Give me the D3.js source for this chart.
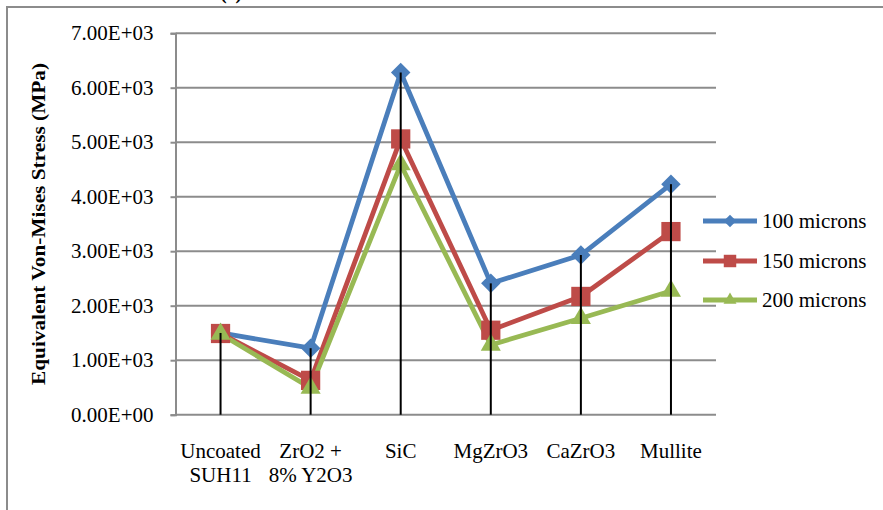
<!DOCTYPE html>
<html><head><meta charset="utf-8">
<script src="https://cdn.jsdelivr.net/npm/d3@7"></script>
<style>
html,body{margin:0;padding:0;background:#fff;}
svg{display:block;font-family:"Liberation Serif","Times New Roman",serif;}
</style></head>
<body>
<svg id="chart" width="883" height="510"></svg>
<script>
const categories = [["Uncoated","SUH11"],["ZrO2 +","8% Y2O3"],["SiC"],["MgZrO3"],["CaZrO3"],["Mullite"]];
const seriesNames = ["100 microns","150 microns","200 microns"];
const s100 = [1500, 1220, 6280, 2410, 2930, 4230];
const s150 = [1490, 630, 5060, 1550, 2170, 3360];
const s200 = [1480, 490, 4590, 1280, 1770, 2270];
const yTicks = [0,1000,2000,3000,4000,5000,6000,7000];
const yTickLabels = ["0.00E+00","1.00E+03","2.00E+03","3.00E+03","4.00E+03","5.00E+03","6.00E+03","7.00E+03"];
const colors = ["#4A7EBB","#BE4B48","#98B954"];

const diamond = {draw(ctx,size){const r=Math.sqrt(size)/2;ctx.moveTo(0,-r);ctx.lineTo(r,0);ctx.lineTo(0,r);ctx.lineTo(-r,0);ctx.closePath();}};
const symbols = [diamond, d3.symbolSquare, d3.symbolTriangle];
const symSizes = [380, 370, 175];
const FS = 21;

const svg = d3.select("#chart");
const plot = {left:175.5, right:716, top:33.2, bottom:414.7};

// outer chart border
svg.append("rect").attr("x",7).attr("y",7).attr("width",900).attr("height",520)
  .attr("fill","none").attr("stroke","#8c8c8c").attr("stroke-width",2);
svg.append("text").attr("x",231).attr("y",-1).attr("text-anchor","middle")
  .attr("font-size",20).attr("font-weight","bold").text("(c)");

const x = d3.scaleBand().domain(d3.range(categories.length)).range([plot.left, plot.right]).padding(0);
const y = d3.scaleLinear().domain([0,7000]).range([plot.bottom, plot.top]);
const cx = i => x(i) + x.bandwidth()/2;

// gridlines
svg.append("g").selectAll("line").data(yTicks).join("line")
  .attr("x1",plot.left).attr("x2",plot.right)
  .attr("y1",d=>y(d)).attr("y2",d=>y(d))
  .attr("stroke","#8c8c8c").attr("stroke-width",2);

// y axis
const yAxis = d3.axisLeft(y).tickValues(yTicks).tickFormat((d,i)=>yTickLabels[i]).tickSize(5).tickPadding(17);
const gy = svg.append("g").attr("transform",`translate(${plot.left},0)`).call(yAxis);
gy.select(".domain").attr("stroke","#8c8c8c").attr("stroke-width",2);
gy.selectAll(".tick line").attr("stroke","#8c8c8c").attr("stroke-width",2);
gy.selectAll(".tick text").attr("font-size",FS).attr("font-family","Liberation Serif").attr("fill","#000");

// y title
svg.append("text").attr("transform","translate(45,224) rotate(-90)")
  .attr("text-anchor","middle").attr("font-size",19).attr("font-weight","bold")
  .attr("textLength",322).attr("lengthAdjust","spacingAndGlyphs")
  .text("Equivalent Von-Mises Stress (MPa)");

// x labels
const xl = svg.append("g");
categories.forEach((lines,i)=>{
  const t = xl.append("text").attr("x",cx(i)).attr("y",458).attr("text-anchor","middle").attr("font-size",FS);
  lines.forEach((ln,j)=>t.append("tspan").attr("x",cx(i)).attr("dy",j===0?0:24).text(ln));
});

const data = [s100,s150,s200];
const maxVals = categories.map((c,i)=>d3.max(data,s=>s[i]));

const line = d3.line().x((d,i)=>cx(i)).y(d=>y(d));
data.forEach((s,k)=>{
  svg.append("path").datum(s).attr("d",line).attr("fill","none")
    .attr("stroke",colors[k]).attr("stroke-width",4.8).attr("stroke-linejoin","round");
});
data.forEach((s,k)=>{
  svg.append("g").selectAll("path").data(s).join("path")
    .attr("d",d3.symbol().type(symbols[k]).size(symSizes[k]))
    .attr("transform",(d,i)=>`translate(${cx(i)},${y(d)})`)
    .attr("fill",colors[k]);
});
// drop lines
svg.append("g").selectAll("line").data(maxVals).join("line")
  .attr("x1",(d,i)=>cx(i)).attr("x2",(d,i)=>cx(i))
  .attr("y1",d=>y(d)).attr("y2",plot.bottom)
  .attr("stroke","#000").attr("stroke-width",2);

// legend
const lg = svg.append("g");
const legY = [221, 261, 300];
seriesNames.forEach((n,k)=>{
  lg.append("line").attr("x1",703).attr("x2",757).attr("y1",legY[k]).attr("y2",legY[k])
    .attr("stroke",colors[k]).attr("stroke-width",4.8);
  lg.append("path").attr("d",d3.symbol().type(symbols[k]).size(symSizes[k]*0.42))
    .attr("transform",`translate(730,${legY[k]})`).attr("fill",colors[k]);
  lg.append("text").attr("x",762).attr("y",legY[k]).attr("dy","0.33em").attr("font-size",FS).text(n);
});
</script>
</body></html>
